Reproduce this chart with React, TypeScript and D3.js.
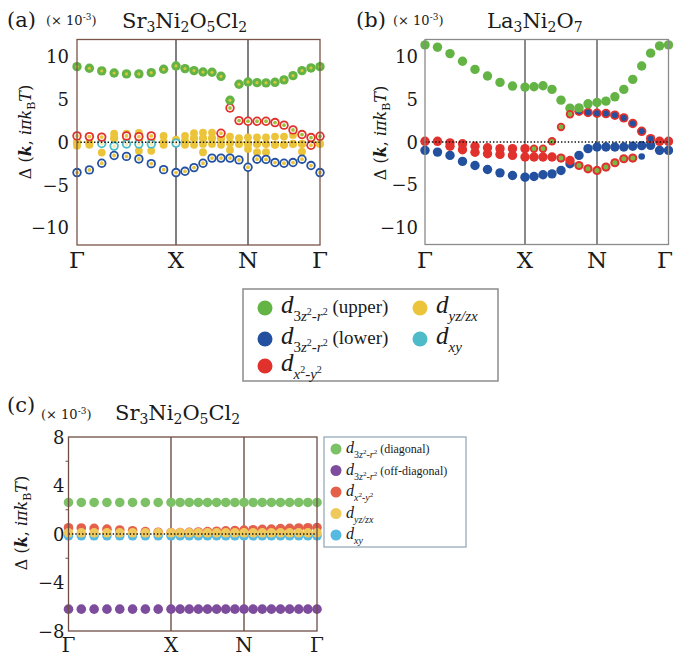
import React, { useRef, useEffect } from 'react';
import * as d3 from 'd3';

const SERIF = '"DejaVu Serif", serif';
const TIMES = '"Liberation Serif", serif';

const kLabels = ['Γ', 'X', 'N', 'Γ'];
const kLabelIdx = [0, 8, 16, 24];

// panel (a) Sr3Ni2O5Cl2, values in units of 1e-3
const aTicks = [10, 5, 0, -5, -10];
const aGreen = [8.83, 8.64, 8.33, 8.09, 7.98, 7.98, 8.13, 8.52, 8.91, 8.6, 8.37, 8.2, 8.17, 7.7, 4.9, 6.77, 7.04, 6.96, 6.93, 7.0, 7.28, 7.78, 8.37, 8.68, 8.83];
const aRedUp = [null, null, null, null, null, null, null, null, null, null, null, null, null, null, 4.0, 2.53, 2.45, 2.45, 2.45, 2.3, 2.0, 1.44, 0.9, 0.55, 0.7];
const aRedLow = [0.74, 0.66, 0.6, null, 0.74, 0.66, 0.74, null, null, null, null, null, null, 1.05, null, null, null, null, null, null, null, null, null, -0.35, null];
const aBlue = [-3.54, -3.23, -2.45, -1.55, -1.65, -1.95, -2.5, -3.2, -3.54, -3.39, -2.96, -2.45, -1.85, -1.85, -1.85, -2.06, -2.92, -1.98, -2.0, -2.37, -2.45, -2.37, -1.98, -2.72, -3.54];
const aCyan = [null, null, -0.15, -0.45, -0.2, -0.2, -0.2, null, -0.1, null, null, null, null, null, null, null, null, null, null, null, null, null, null, null, null];
const aYellow1 = [null, null, 0.47, 1.0, 1.0, 1.1, 0.6, 0.74, 0.3, 0.74, 1.05, 1.13, 1.13, 0.5, 0.66, 0.47, 0.58, 0.58, 0.58, 0.66, 0.66, 0.86, 0.86, null, null];
const aYellow2 = [0, -0.1, 0.1, 0.47, 0.47, 0.3, 0.35, 0, 0.15, 0.1, 0.47, 0.47, 0.47, 0.47, -0.1, -0.2, -0.2, -0.2, -0.2, -0.3, -0.3, -0.2, -0.2, -0.1, -0.2];
const aYellow3 = [-0.4, -0.3, null, null, null, null, null, -0.3, null, -0.3, -0.3, -0.2, -0.2, -0.3, -0.9, null, -0.78, null, null, null, null, null, null, null, null];
const aYellow4 = [null, null, -1.2, null, null, -1.0, -1.0, null, null, null, null, -1.17, null, null, null, null, null, -1.17, -1.17, null, null, null, -1.1, null, null];

// panel (b) La3Ni2O7
const bTicks = [10, 5, 0, -5, -10];
const bGreen = [11.37, 11.1, 10.35, 9.45, 8.5, 7.73, 6.98, 6.55, 6.43, 6.47, 6.59, 6.16, 4.9, 3.96, 4.0, 4.47, 4.63, 4.78, 5.29, 6.16, 7.33, 8.9, 10.4, 11.25, 11.37];
const bBlue = [-0.98, -1.18, -1.57, -2.27, -2.75, -3.22, -3.61, -3.92, -4.12, -4.04, -3.84, -3.73, -3.33, -2.55, -1.57, -0.78, -0.59, -0.59, -0.59, -0.59, -0.5, -0.43, -0.39, -0.98, -0.98];
const bBlueSmall = [null, null, null, null, null, null, null, null, null, null, null, null, null, null, null, null, null, null, null, null, null, -1.69, null, null, null];
const bRed1 = [0.08, 0.08, -0.1, -0.2, -0.5, -0.67, -0.78, -0.78, -0.78, null, null, null, null, null, null, null, null, null, null, null, null, null, null, 0.08, 0.08];
const bRed2 = [null, null, -0.5, -0.9, -1.2, -1.37, -1.45, -1.57, -1.76, -1.76, -1.76, -1.76, null, -2.16, null, null, null, null, null, null, null, null, null, null, null];
const bRedGreenUp = [null, null, null, null, null, null, null, null, null, -0.78, -0.78, 0.08, 1.76, 3.25, null, null, null, null, null, null, null, null, null, null, null];
const bRedGreenLow = [null, null, null, null, null, null, null, null, null, null, null, null, -1.88, null, -2.75, -3.14, -3.33, -2.94, -2.43, -1.96, -1.88, null, null, null, null];
const bRedBlue = [null, null, null, null, null, null, null, null, null, null, null, null, null, null, 3.6, 3.45, 3.37, 3.33, 3.14, 2.82, 2.16, 1.25, 0.39, null, null];

// panel (c) Sr3Ni2O5Cl2, diagonal / off-diagonal
const cTicks = [8, 4, 0, -4, -8];
const cGreen = [2.6, 2.6, 2.6, 2.6, 2.6, 2.6, 2.6, 2.6, 2.6, 2.6, 2.6, 2.6, 2.6, 2.6, 2.6, 2.6, 2.6, 2.6, 2.6, 2.6, 2.6, 2.6, 2.6, 2.6, 2.6];
const cPurple = [-6.2, -6.2, -6.2, -6.2, -6.2, -6.2, -6.2, -6.2, -6.2, -6.2, -6.2, -6.2, -6.2, -6.2, -6.2, -6.2, -6.2, -6.2, -6.2, -6.2, -6.2, -6.2, -6.2, -6.2, -6.2];
const cRed = [0.52, 0.5, 0.46, 0.4, 0.33, 0.27, 0.2, 0.15, 0.12, 0.12, 0.14, 0.17, 0.2, 0.23, 0.26, 0.29, 0.32, 0.35, 0.38, 0.41, 0.44, 0.47, 0.5, 0.52, 0.53];
const cYellow = [0.1, 0.1, 0.1, 0.1, 0.1, 0.1, 0.1, 0.1, 0.1, 0.1, 0.1, 0.1, 0.1, 0.1, 0.1, 0.1, 0.1, 0.1, 0.1, 0.1, 0.1, 0.1, 0.1, 0.1, 0.1];
const cCyan = [-0.15, -0.15, -0.15, -0.15, -0.15, -0.15, -0.15, -0.15, -0.15, -0.15, -0.15, -0.15, -0.15, -0.15, -0.15, -0.15, -0.15, -0.15, -0.15, -0.15, -0.15, -0.15, -0.15, -0.15, -0.15];

const GREEN = '#63b445', BLUE = '#23519f', RED = '#e0312d', YELLOW = '#ebc43a', CYAN = '#4dbcc8';
const C_GREEN = '#7cc166', C_PURPLE = '#7d4c9c', C_RED = '#e4604b', C_YELLOW = '#efc95c', C_CYAN = '#55b9e2';

function rich(parent, x, y, parts, size, fam, anchor = 'start') {
  const text = parent.append('text')
    .attr('x', x).attr('y', y)
    .attr('font-family', fam).attr('font-size', size)
    .attr('text-anchor', anchor).attr('fill', '#1a1a1a');
  let cur = 0;
  parts.forEach(p => {
    const want = p.dy || 0;
    const ts = text.append('tspan').attr('dy', want - cur).text(p.t);
    cur = want;
    if (p.size) ts.attr('font-size', p.size);
    if (p.it) ts.attr('font-style', 'italic');
    if (p.b) ts.attr('font-weight', 'bold');
  });
  return text;
}

function dots(g, x, y, vals, st) {
  const pts = vals.map((v, i) => ({ i, v })).filter(d => d.v != null);
  const sel = g.append('g').selectAll('g').data(pts).join('g')
    .attr('transform', d => `translate(${x(d.i)},${y(d.v)})`);
  sel.append('circle').attr('r', st.r).attr('fill', st.fill);
  if (st.gap) sel.append('circle').attr('r', st.gap).attr('fill', '#fff');
  if (st.inner) sel.append('circle').attr('r', st.ir).attr('fill', st.inner);
}

function panel(svg, cfg) {
  const x = d3.scaleLinear().domain(kLabelIdx).range([cfg.left, cfg.xX, cfg.xN, cfg.right]);
  const y = d3.scaleLinear().domain(cfg.domain).range([cfg.bottom, cfg.top]);
  const g = svg.append('g');
  g.selectAll('.kline').data([8, 16]).join('line')
    .attr('x1', d => x(d)).attr('x2', d => x(d))
    .attr('y1', cfg.top).attr('y2', cfg.bottom)
    .attr('stroke', cfg.vline).attr('stroke-width', cfg.vw);
  cfg.series.forEach(s => dots(g, x, y, s.vals, s));
  g.append('line')
    .attr('x1', cfg.left).attr('x2', cfg.right)
    .attr('y1', y(0)).attr('y2', y(0))
    .attr('stroke', '#111').attr('stroke-width', 1.4).attr('stroke-dasharray', '1.4,2');
  g.append('rect')
    .attr('x', cfg.left).attr('y', cfg.top)
    .attr('width', cfg.right - cfg.left).attr('height', cfg.bottom - cfg.top)
    .attr('fill', 'none').attr('stroke', cfg.frame).attr('stroke-width', 1.3);
  if (cfg.minor) {
    g.selectAll('.mt').data(cfg.minor).join('line')
      .attr('x1', cfg.left - 3).attr('x2', cfg.left)
      .attr('y1', d => y(d)).attr('y2', d => y(d))
      .attr('stroke', cfg.frame).attr('stroke-width', 1);
  }
  g.selectAll('.yt').data(cfg.ticks).join('text')
    .attr('x', cfg.left - cfg.tickGap).attr('y', d => y(d) + 6.5)
    .attr('text-anchor', 'end')
    .attr('font-family', SERIF).attr('font-size', 18).attr('fill', '#1a1a1a')
    .text(d => (d < 0 ? '−' + Math.abs(d) : String(d)));
  g.selectAll('.xt').data(kLabelIdx).join('text')
    .attr('x', d => Math.min(x(d), 665))
    .attr('y', cfg.xLabelY)
    .attr('text-anchor', 'middle')
    .attr('font-family', SERIF).attr('font-size', cfg.xLabelSize).attr('fill', '#1a1a1a')
    .text((d, i) => kLabels[i]);
  const yl = rich(g, 0, 0, [
    { t: 'Δ (' }, { t: 'k', it: true, b: true }, { t: ', ' }, { t: 'iπk', it: true },
    { t: 'B', dy: 4, size: 11 }, { t: 'T', it: true }, { t: ')' },
  ], 16, SERIF, 'middle');
  yl.attr('transform', `translate(${cfg.ylx},${cfg.yly}) rotate(-90)`);
  rich(g, cfg.tagX, cfg.tagY, [{ t: cfg.tag }], 21, SERIF);
  rich(g, cfg.sclX, cfg.sclY, [{ t: '(× 10' }, { t: '-3', dy: -5, size: 9 }, { t: ')' }], 13, SERIF);
  rich(g, cfg.titleX, cfg.titleY, cfg.title, 21, SERIF);
}

const sub = t => ({ t, dy: 4, size: 14 });

function legendText(g, x, y, parts, big, small, sup, tail, tailSize) {
  const a = [{ t: 'd', it: true }];
  parts.forEach(p => {
    if (p.sup) a.push({ t: p.t, dy: small * 0.1, size: sup });
    else a.push({ t: p.t, dy: small * 0.5, size: small, it: p.it });
  });
  if (tail) a.push({ t: tail, size: tailSize });
  rich(g, x, y, a, big, TIMES);
}

const S3z = [{ t: '3' }, { t: 'z', it: true }, { t: '2', sup: true }, { t: '-' }, { t: 'r', it: true }, { t: '2', sup: true }];
const Sx2 = [{ t: 'x', it: true }, { t: '2', sup: true }, { t: '-' }, { t: 'y', it: true }, { t: '2', sup: true }];
const Syz = [{ t: 'yz/zx', it: true }];
const Sxy = [{ t: 'xy', it: true }];

const App = () => {
  const svgRef = useRef(null);
  useEffect(() => {
    const svg = d3.select(svgRef.current);
    svg.selectAll('*').remove();
    svg.append('rect').attr('width', 673).attr('height', 658).attr('fill', '#fff');

    const ringA = (c, core) => ({ r: 4.7, fill: c, gap: 2.9, inner: core, ir: 1.9 });
    panel(svg, {
      left: 77, xX: 176, xN: 248, right: 320, top: 39.5, bottom: 245, domain: [-12, 12],
      ticks: aTicks, tickGap: 8, xLabelY: 268, xLabelSize: 23, vline: '#2a2a2a', vw: 1.2, frame: '#7a5549',
      ylx: 31, yly: 132, tag: '(a)', tagX: 7, tagY: 27, sclX: 46, sclY: 25,
      titleX: 122, titleY: 28,
      title: [{ t: 'Sr' }, sub('3'), { t: 'Ni' }, sub('2'), { t: 'O' }, sub('5'), { t: 'Cl' }, sub('2')],
      series: [
        { vals: aYellow4, r: 3.9, fill: YELLOW },
        { vals: aYellow3, r: 3.9, fill: YELLOW },
        { vals: aYellow2, r: 4.1, fill: YELLOW },
        { vals: aYellow1, r: 3.9, fill: YELLOW },
        { vals: aCyan, ...ringA(CYAN, '#f5e9b0') },
        { vals: aRedLow, ...ringA(RED, YELLOW) },
        { vals: aBlue, ...ringA(BLUE, YELLOW) },
        { vals: aRedUp, ...ringA(RED, '#9cc23c') },
        { vals: aGreen, r: 4.7, fill: GREEN, inner: '#d8c53a', ir: 1.6 },
      ],
    });

    panel(svg, {
      left: 425, xX: 525, xN: 597, right: 668.5, top: 39.5, bottom: 244.5, domain: [-12, 12],
      ticks: bTicks, tickGap: 7, xLabelY: 268, xLabelSize: 23, vline: '#8a8a8a', vw: 2, frame: '#8a8a8a',
      ylx: 386, yly: 133, tag: '(b)', tagX: 356, tagY: 27, sclX: 393, sclY: 25,
      titleX: 487, titleY: 28,
      title: [{ t: 'La' }, sub('3'), { t: 'Ni' }, sub('2'), { t: 'O' }, sub('7')],
      series: [
        { vals: bBlue, r: 4.7, fill: BLUE },
        { vals: bBlueSmall, r: 3.3, fill: BLUE },
        { vals: bRed1, r: 4.7, fill: RED },
        { vals: bRed2, r: 4.7, fill: RED },
        { vals: bRedGreenLow, r: 4.6, fill: RED, inner: '#79b845', ir: 2.5 },
        { vals: bRedBlue, r: 4.7, fill: RED, inner: BLUE, ir: 3 },
        { vals: bGreen, r: 4.7, fill: GREEN },
        { vals: bRedGreenUp, r: 4.2, fill: RED, inner: '#79b845', ir: 2.4 },
      ],
    });

    panel(svg, {
      left: 68.5, xX: 171, xN: 244, right: 317, top: 437, bottom: 631, domain: [-8, 8],
      ticks: cTicks, tickGap: 4, xLabelY: 652, xLabelSize: 20, vline: '#6e4e45', vw: 1.4, frame: '#6e4e45',
      minor: [6, 2, -2, -6],
      ylx: 27, yly: 523, tag: '(c)', tagX: 7, tagY: 412, sclX: 41, sclY: 419,
      titleX: 115, titleY: 420,
      title: [{ t: 'Sr' }, sub('3'), { t: 'Ni' }, sub('2'), { t: 'O' }, sub('5'), { t: 'Cl' }, sub('2')],
      series: [
        { vals: cGreen, r: 4.8, fill: C_GREEN },
        { vals: cPurple, r: 4.8, fill: C_PURPLE },
        { vals: cRed, r: 4.8, fill: C_RED },
        { vals: cCyan, r: 4.8, fill: C_CYAN },
        { vals: cYellow, r: 4.8, fill: C_YELLOW },
      ],
    });

    // legend for (a) and (b)
    const lg = svg.append('g');
    lg.append('rect').attr('x', 243).attr('y', 289).attr('width', 255).attr('height', 92)
      .attr('fill', '#fff').attr('stroke', '#8c8c8c').attr('stroke-width', 1.5);
    const mainLeg = [
      { c: GREEN, cx: 265, cy: 308, parts: S3z, tail: ' (upper)' },
      { c: BLUE, cx: 265, cy: 339, parts: S3z, tail: ' (lower)' },
      { c: RED, cx: 265, cy: 366, parts: Sx2, tail: null },
      { c: YELLOW, cx: 420, cy: 308, parts: Syz, tail: null },
      { c: CYAN, cx: 420, cy: 339, parts: Sxy, tail: null },
    ];
    mainLeg.forEach(d => {
      lg.append('circle').attr('cx', d.cx).attr('cy', d.cy).attr('r', 7.5).attr('fill', d.c);
      legendText(lg, d.cx + 16, d.cy + 5, d.parts, 25, 15, 10, d.tail, 19);
    });

    // legend for (c)
    const lc = svg.append('g');
    lc.append('rect').attr('x', 324).attr('y', 437).attr('width', 142).attr('height', 110)
      .attr('fill', '#fff').attr('stroke', '#8fa3b3').attr('stroke-width', 1.2);
    const cLeg = [
      { c: C_GREEN, parts: S3z, tail: ' (diagonal)' },
      { c: C_PURPLE, parts: S3z, tail: ' (off-diagonal)' },
      { c: C_RED, parts: Sx2, tail: null },
      { c: C_YELLOW, parts: Syz, tail: null },
      { c: C_CYAN, parts: Sxy, tail: null },
    ];
    cLeg.forEach((d, i) => {
      const cy = 449 + i * 21.5;
      lc.append('circle').attr('cx', 336).attr('cy', cy).attr('r', 5.5).attr('fill', d.c);
      legendText(lc, 346, cy + 4, d.parts, 16, 10, 7, d.tail, 12);
    });
  }, []);
  return (
    <svg ref={svgRef} width={673} height={658}
      style={{ position: 'absolute', left: 0, top: 0, display: 'block' }} />
  );
};

export default App;
